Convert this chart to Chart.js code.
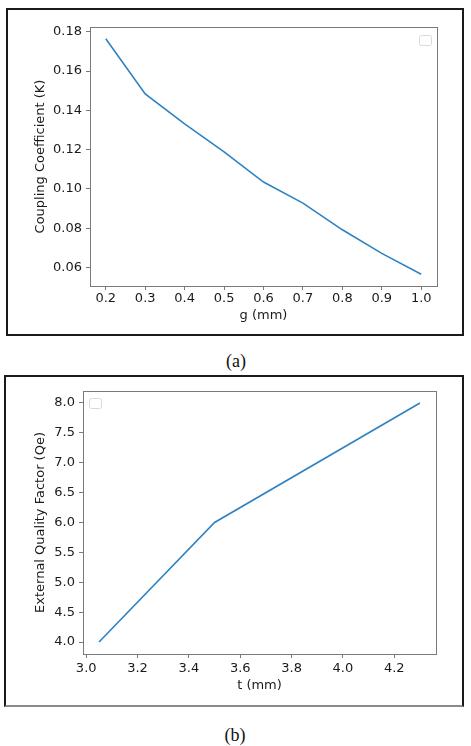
<!DOCTYPE html>
<html>
<head>
<meta charset="utf-8">
<script src="https://cdn.jsdelivr.net/npm/chart.js@4/dist/chart.umd.min.js"></script>
<style>
  html, body { margin: 0; padding: 0; background: #fff; }
  body { width: 471px; height: 746px; position: relative; overflow: hidden; }
  .box { position: absolute; box-sizing: border-box; border: 2px solid #1a1a1a; }
  .box canvas { display: block; }
  .cap { position: absolute; width: 80px; text-align: center; font-family: "Liberation Serif", serif; font-size: 18px; color: #111; line-height: 20px; }
</style>
</head>
<body>

<div class="box" id="boxA" style="left:6px; top:8px; width:458px; height:328px;">
  <canvas id="chartA" width="454" height="324"></canvas>
</div>
<div class="cap" style="left:196px; top:351px;">(a)</div>

<div class="box" id="boxB" style="left:4px; top:375px; width:460px; height:332px; border-bottom-color:#8a8a8a;">
  <canvas id="chartB" width="456" height="328"></canvas>
</div>
<div class="cap" style="left:195px; top:725px;">(b)</div>

<script>
// ── Données ───────────────────────────────────────────────────────────────

// (a) coefficient de couplage vs g
const G_MM = [0.2, 0.3, 0.4, 0.5, 0.6, 0.7, 0.8, 0.9, 1.0];
const COUPLING_K = [0.1764, 0.1483, 0.1331, 0.1189, 0.1035, 0.0928, 0.0792, 0.0672, 0.0566];
const G_TICKS = [0.2, 0.3, 0.4, 0.5, 0.6, 0.7, 0.8, 0.9, 1.0];
const K_TICKS = [0.06, 0.08, 0.10, 0.12, 0.14, 0.16, 0.18];

// (b) facteur de qualité externe vs t
const T_MM = [3.05, 3.5, 4.3];
const QE = [4.0, 6.0, 8.0];
const T_TICKS = [3.0, 3.2, 3.4, 3.6, 3.8, 4.0, 4.2];
const QE_TICKS = [4.0, 4.5, 5.0, 5.5, 6.0, 6.5, 7.0, 7.5, 8.0];

// ── Style commun (façon matplotlib) ───────────────────────────────────────

const FONT = { family: '"DejaVu Sans", sans-serif', size: 13 };
const TEXT = '#1a1a1a';
const SPINE = '#7a7a7a';
const LINE = '#2f82c0';

// marge de 5 % comme matplotlib
function padded(values) {
  const lo = Math.min(...values), hi = Math.max(...values);
  const m = (hi - lo) * 0.05;
  return { min: lo - m, max: hi + m };
}

// cadre gris autour de la zone de tracé + légende vide
function framePlugin(legendSide, legendTop) {
  return {
    id: 'frame',
    afterDraw(chart) {
      const { ctx, chartArea: a } = chart;
      ctx.save();
      ctx.strokeStyle = SPINE;
      ctx.lineWidth = 1;
      ctx.strokeRect(Math.round(a.left) + 0.5, Math.round(a.top) + 0.5,
        Math.round(a.right - a.left), Math.round(a.bottom - a.top));

      // légende sans entrée : petit carré arrondi
      const w = 12, h = 10;
      const x = legendSide === 'right' ? a.right - 6 - w : a.left + 6;
      const y = a.top + legendTop;
      ctx.beginPath();
      ctx.roundRect(Math.round(x) + 0.5, Math.round(y) + 0.5, w, h, 2);
      ctx.fillStyle = '#ffffff';
      ctx.fill();
      ctx.strokeStyle = '#d9d9d9';
      ctx.stroke();
      ctx.restore();
    },
  };
}

function makeChart(id, cfg) {
  const xr = padded(cfg.x);
  const yr = padded(cfg.y);
  return new Chart(document.getElementById(id), {
    type: 'line',
    plugins: [framePlugin(cfg.legendSide, cfg.legendTop)],
    data: {
      datasets: [{
        data: cfg.x.map((v, i) => ({ x: v, y: cfg.y[i] })),
        borderColor: LINE,
        borderWidth: 1.6,
        pointRadius: 0,
        tension: 0,
        fill: false,
      }],
    },
    options: {
      responsive: false,
      animation: false,
      devicePixelRatio: 1,
      layout: { padding: { left: 0, top: cfg.padTop, right: cfg.padRight, bottom: 0 } },
      plugins: { legend: { display: false }, tooltip: { enabled: false } },
      scales: {
        x: {
          type: 'linear',
          min: xr.min,
          max: xr.max,
          afterBuildTicks: s => { s.ticks = cfg.xTicks.map(v => ({ value: v })); },
          afterFit: s => { s.height = cfg.xHeight; },
          grid: { display: true, drawOnChartArea: false, drawTicks: true, tickLength: 4, color: SPINE },
          border: { display: false },
          ticks: {
            autoSkip: false, maxRotation: 0, padding: cfg.xTickPad,
            color: TEXT, font: FONT,
            callback: v => v.toFixed(1),
          },
          title: { display: true, text: cfg.xTitle, color: TEXT, font: FONT, padding: { top: 0, bottom: cfg.xTitlePad } },
        },
        y: {
          type: 'linear',
          min: yr.min,
          max: yr.max,
          afterBuildTicks: s => { s.ticks = cfg.yTicks.map(v => ({ value: v })); },
          afterFit: s => { s.width = cfg.yWidth; },
          grid: { display: true, drawOnChartArea: false, drawTicks: true, tickLength: 4, color: SPINE },
          border: { display: false },
          ticks: {
            autoSkip: false, padding: 4,
            color: TEXT, font: FONT,
            callback: v => v.toFixed(cfg.yDecimals),
          },
          title: { display: true, text: cfg.yTitle, color: TEXT, font: FONT, padding: { top: cfg.yTitlePad, bottom: 0 } },
        },
      },
    },
  });
}

makeChart('chartA', {
  x: G_MM, y: COUPLING_K, xTicks: G_TICKS, yTicks: K_TICKS, yDecimals: 2,
  xTitle: 'g (mm)', yTitle: 'Coupling Coefficient (K)',
  padTop: 17, padRight: 25, yWidth: 82, xHeight: 48,
  xTickPad: 1, xTitlePad: 11, yTitlePad: 25,
  legendSide: 'right', legendTop: 8,
});

makeChart('chartB', {
  x: T_MM, y: QE, xTicks: T_TICKS, yTicks: QE_TICKS, yDecimals: 1,
  xTitle: 't (mm)', yTitle: 'External Quality Factor (Qe)',
  padTop: 14, padRight: 26, yWidth: 77, xHeight: 51,
  xTickPad: 3, xTitlePad: 12, yTitlePad: 27,
  legendSide: 'left', legendTop: 7,
});
</script>
</body>
</html>
